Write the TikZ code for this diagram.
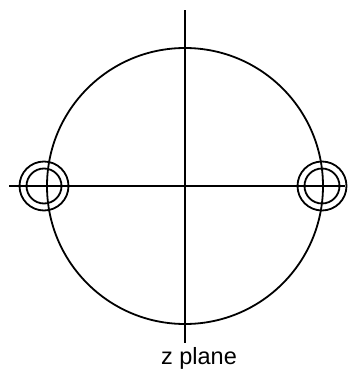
\documentclass[tikz,border=0pt]{standalone}
\usepackage{fontspec}
\setmainfont{Liberation Sans}
\usetikzlibrary{positioning}

\begin{document}
\begin{tikzpicture}[
    x=1pt, y=-1pt,
    axis/.style={line width=2pt},
    ring/.style={circle, draw=black, line width=1.8pt, inner sep=0pt},
    label/.style={font=\fontsize{23.5}{26}\selectfont, inner sep=0pt}
]
\useasboundingbox (0,0) rectangle (350,370);
% unit circle and axes
\node[ring, minimum size=276pt] (unit) at (185,186) {};
\coordinate (west) at (9,186);
\coordinate (east) at (345,186);
\coordinate (north) at (185,10);
\coordinate (south) at (185,343);
\draw[axis] (west) -- (east);
\draw[axis] (north) -- (south);
% double poles
\node[ring, minimum size=49pt] (leftout) at (44,186) {};
\node[ring, minimum size=35pt] (leftin) at (44,186) {};
\node[ring, minimum size=49pt] (rightout) at (322,186) {};
\node[ring, minimum size=35pt] (rightin) at (322,186) {};
\node[label] (plane) at (199,358) {z plane};
\end{tikzpicture}
\end{document}
